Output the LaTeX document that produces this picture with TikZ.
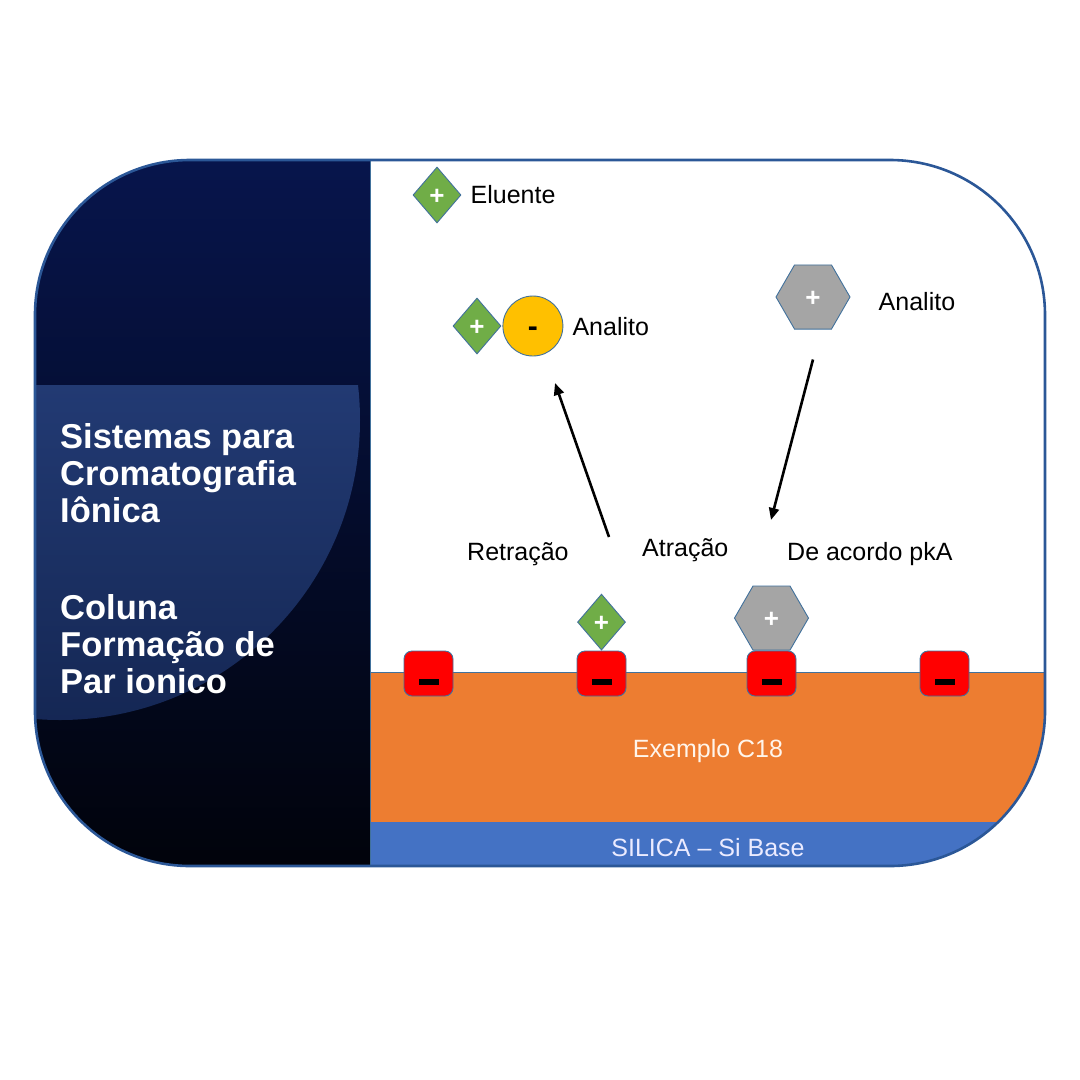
\documentclass[tikz,border=0pt]{standalone}
\usepackage{fontspec}
\setmainfont{Liberation Sans}
\usepackage{tikz}
\usetikzlibrary{arrows.meta,positioning,shapes.geometric,calc}
\definecolor{moldura}{HTML}{2B5797}
\definecolor{contorno}{HTML}{41719C}
\definecolor{noite}{HTML}{07154C}
\definecolor{noitefim}{HTML}{01030B}
\definecolor{brilho}{HTML}{223A73}
\definecolor{brilhofim}{HTML}{0F1F47}
\definecolor{fase}{HTML}{ED7D31}
\definecolor{silica}{HTML}{4472C4}
\definecolor{verde}{HTML}{70AD47}
\definecolor{amarelo}{HTML}{FFC000}
\definecolor{cinza}{HTML}{A5A5A5}
\definecolor{vermelho}{HTML}{FF0000}

\begin{document}
\begin{tikzpicture}[x=1pt,y=-1pt,
  rot/.style={font=\fontsize{25}{29}\selectfont,inner sep=0pt},
  titulo/.style={text=white,align=left,inner sep=0pt,font=\fontsize{34.5}{37}\selectfont\bfseries},
  sinal/.style={text=white,font=\fontsize{26}{26}\selectfont\bfseries,text height=18.2pt,text depth=0pt},
  losango/.style={diamond,fill=verde,draw=contorno,line width=0.9pt,minimum width=48pt,minimum height=56pt,inner sep=0pt,sinal},
  hexa/.style={regular polygon,regular polygon sides=6,fill=cinza,draw=contorno,line width=0.9pt,minimum size=74pt,inner sep=0pt,sinal},
  bola/.style={circle,fill=amarelo,draw=contorno,line width=0.9pt,minimum size=60pt,inner sep=0pt,font=\fontsize{30}{30}\selectfont\bfseries,text height=20pt,text depth=0pt},
  sitio/.style={rectangle,rounded corners=8pt,fill=vermelho,draw=contorno,line width=0.9pt,minimum width=49pt,minimum height=45pt,inner sep=0pt},
  traco/.style={fill=black,minimum width=20pt,minimum height=6.5pt,inner sep=0pt},
  seta/.style={-{Triangle[length=12pt,width=10pt]},line width=2.6pt}]
  \useasboundingbox (0,0) rectangle (1080,1080);
  % cartao: painel escuro, fase movel, fase estacionaria
  \begin{scope}
    \clip[rounded corners=155pt] (35,160) rectangle (1045,866);
    \shade[top color=noite,bottom color=noitefim] (35,160) rectangle (370,866);
    \begin{scope}
      \clip (60,420) circle (300pt);
      \shade[top color=brilho,bottom color=brilhofim] (35,385) rectangle (370,866);
    \end{scope}
    \fill[white] (370,160) rectangle (1045,672);
    \fill[fase] (370,672) rectangle (1045,822);
    \fill[silica] (370,822) rectangle (1045,866);
    \draw[contorno,line width=1pt] (370,672) -- (1045,672);
    \draw[contorno,line width=0.8pt] (370,160) -- (370,866);
  \end{scope}
  \draw[moldura,line width=2.6pt,rounded corners=155pt] (35,160) rectangle (1045,866);

  % titulos do painel
  \node[titulo,anchor=north west] (tit1) at (60,423.5) {Sistemas para\\Cromatografia\\Iônica};
  \node[titulo,anchor=north west] (tit2) at (60,594) {Coluna\\Formação de\\Par ionico};

  % legenda
  \node[losango] (eluente) at (437,195) {+};
  \node[rot,right=9pt of eluente] (txteluente) {Eluente};
  \node[losango] (par) at (477,326) {+};
  \node[bola,right=1pt of par] (ana) {-};
  \node[rot,right=9pt of ana,yshift=-1pt] (txtpar) {Analito};
  \node[hexa] (hex) at (813,297) {+};
  \node[rot,right=28pt of hex,yshift=-5pt] (txthex) {Analito};

  % sitios negativos da coluna
  \foreach \i/\x in {1/428.5,2/601.5,3/771.5,4/944.5} {
    \node[sitio] (s\i) at (\x,673.5) {};
    \node[traco] (m\i) at (\x,682) {};
  }
  \node[losango,above=0pt of s2] (parsitio) {+};
  \node[hexa,above=0pt of s3] (hexsitio) {+};

  % setas
  \coordinate (retcauda) at (609,537);
  \coordinate (retponta) at (555,383);
  \coordinate (atrponta) at (771,520);
  \draw[seta] (retcauda) -- (retponta);
  \draw[seta] ([yshift=-30pt]hex.south) -- (atrponta);

  \node[rot,anchor=base west] (retracao) at (467,560) {Retração};
  \node[rot,anchor=base west] (atracao) at (642,556) {Atração};
  \node[rot,anchor=base west] (pka) at (787,560) {De acordo pkA};

  \node[rot,anchor=base,text=orange!8] (c18) at (708,757) {Exemplo C18};
  \node[rot,anchor=base,text=blue!8] (base) at (708,856) {SILICA – Si Base};
\end{tikzpicture}
\end{document}
